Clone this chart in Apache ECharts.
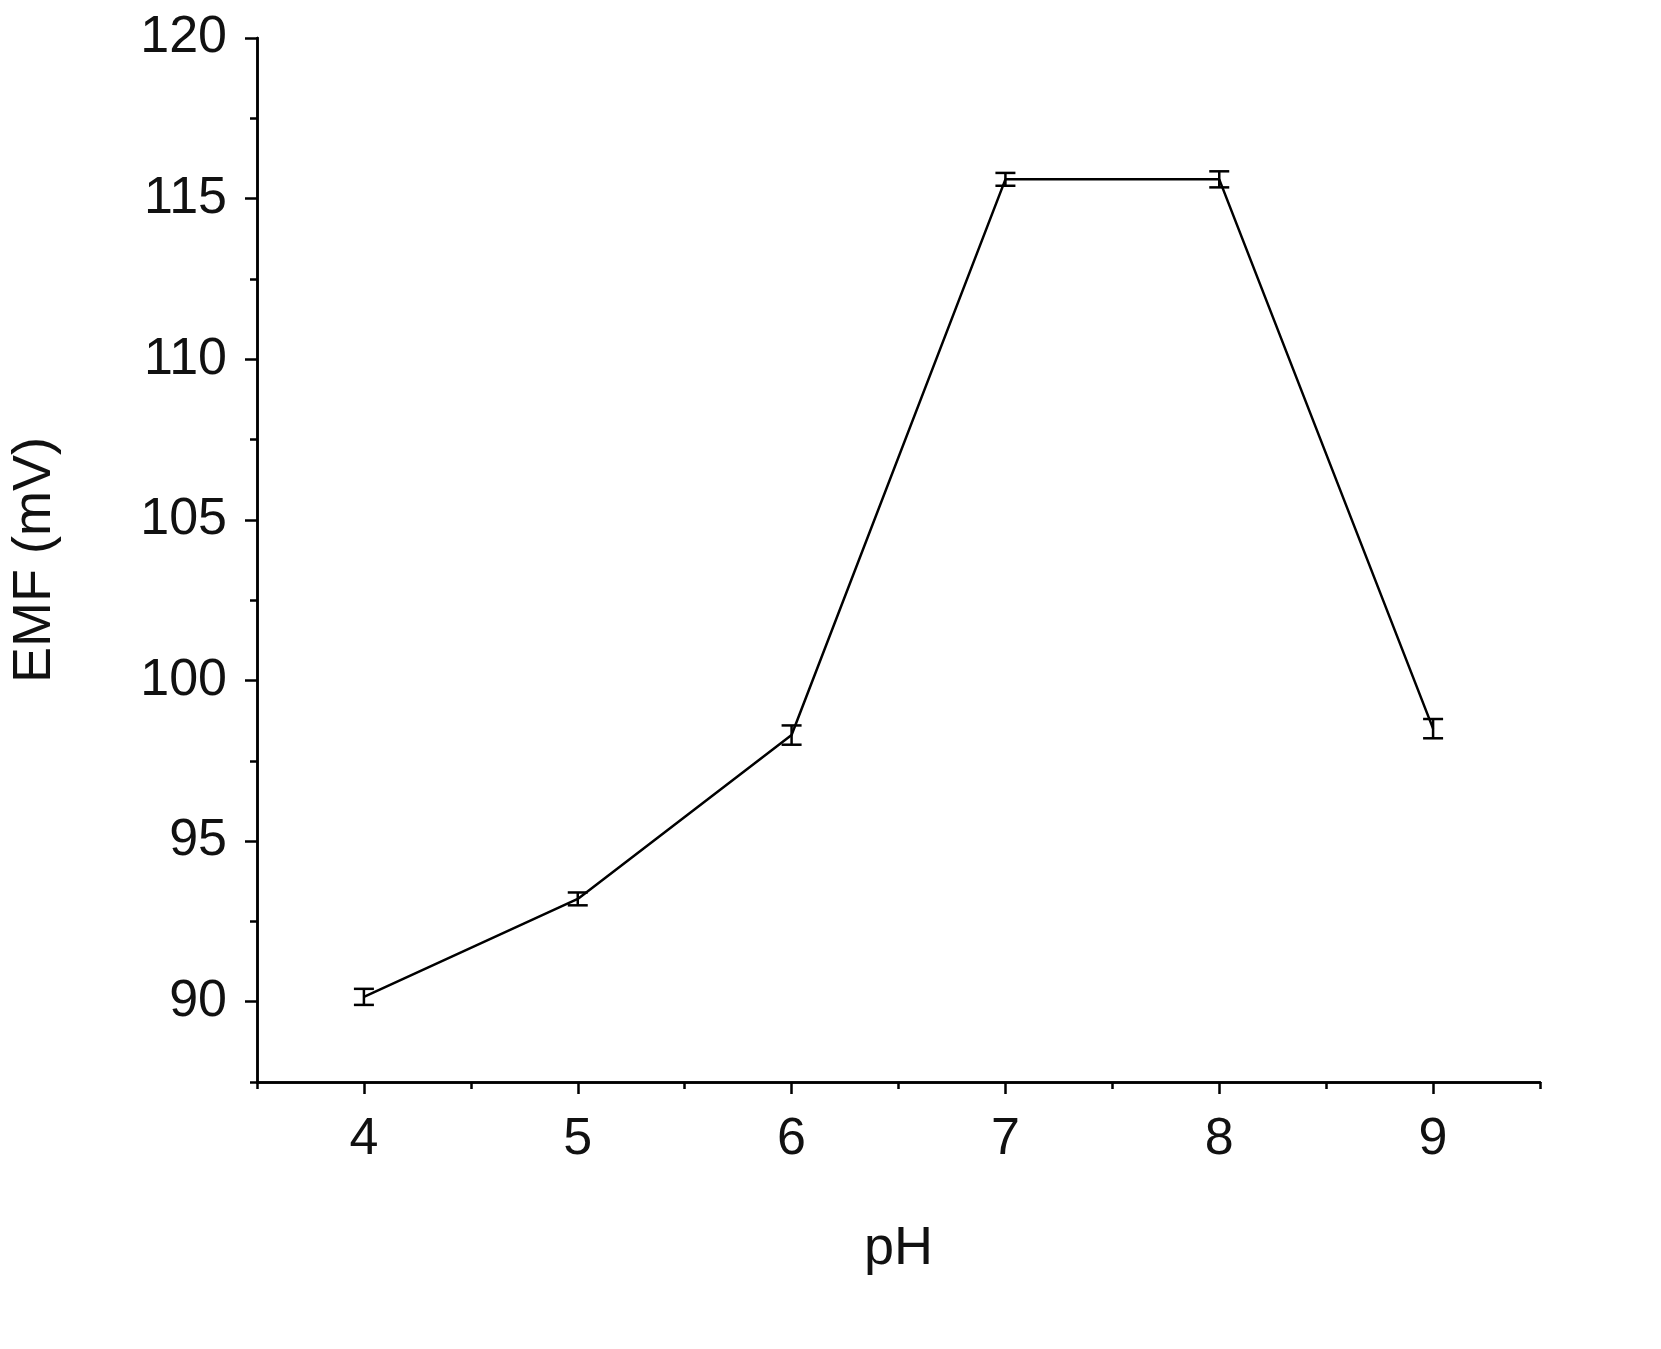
<!DOCTYPE html>
<html>
<head>
<meta charset="utf-8">
<script src="https://cdn.jsdelivr.net/npm/echarts@6/dist/echarts.min.js"></script>
<style>html,body{margin:0;background:#fff}#chart{width:1661px;height:1349px}</style>
</head>
<body>
<div id="chart"></div>
<script>
var phValues = [4, 5, 6, 7, 8, 9];
var emfValues = [90.15, 93.2, 98.3, 115.6, 115.6, 98.5];
var emfErrors = [0.25, 0.2, 0.3, 0.2, 0.25, 0.3];
var xMajorTicks = [4, 5, 6, 7, 8, 9];
var xMinorTicks = [3.5, 4.5, 5.5, 6.5, 7.5, 8.5, 9.5];
var yMajorTicks = [90, 95, 100, 105, 110, 115, 120];
var yMinorTicks = [87.5, 92.5, 97.5, 102.5, 107.5, 112.5, 117.5];

var font = 'Liberation Sans, Arial, sans-serif';
var points = phValues.map(function (x, i) { return [x, emfValues[i]]; });
var errData = phValues.map(function (x, i) {
  return [x, emfValues[i] - emfErrors[i], emfValues[i] + emfErrors[i]];
});

function axisBase(min, max) {
  return {
    type: 'value', min: min, max: max,
    splitLine: {show: false},
    axisLine: {show: true, onZero: false, lineStyle: {color: '#000', width: 2.5}}
  };
}

var xMain = Object.assign(axisBase(3.5, 9.5), {
  name: 'pH', nameLocation: 'middle', nameGap: 140,
  nameTextStyle: {fontFamily: font, fontSize: 54, color: '#111'},
  axisTick: {show: true, customValues: xMajorTicks, length: 12, lineStyle: {color: '#000', width: 2.5}},
  axisLabel: {customValues: xMajorTicks, fontFamily: font, fontSize: 52, color: '#111', margin: 32}
});
var xMinor = Object.assign(axisBase(3.5, 9.5), {
  position: 'bottom',
  axisTick: {show: true, customValues: xMinorTicks, length: 7, lineStyle: {color: '#000', width: 2.5}},
  axisLabel: {show: false}
});
var yMain = Object.assign(axisBase(87.5, 120), {
  name: 'EMF (mV)', nameLocation: 'middle', nameGap: 195, nameRotate: 90,
  nameTextStyle: {fontFamily: font, fontSize: 54, color: '#111'},
  axisTick: {show: true, customValues: yMajorTicks, length: 12, lineStyle: {color: '#000', width: 2.5}},
  axisLabel: {customValues: yMajorTicks, fontFamily: font, fontSize: 52, color: '#111', margin: 30}
});
var yMinor = Object.assign(axisBase(87.5, 120), {
  position: 'left',
  axisTick: {show: true, customValues: yMinorTicks, length: 7, lineStyle: {color: '#000', width: 2.5}},
  axisLabel: {show: false}
});

var chart = echarts.init(document.getElementById('chart'));
chart.setOption({
  backgroundColor: '#fff',
  animation: false,
  grid: {left: 247, top: 38, right: 121, bottom: 267},
  xAxis: [xMain, xMinor],
  yAxis: [yMain, yMinor],
  series: [
    {
      type: 'line', data: points, symbol: 'none',
      lineStyle: {color: '#000', width: 2.5}
    },
    {
      type: 'custom', data: errData,
      renderItem: function (params, api) {
        var x = api.value(0);
        var lo = api.coord([x, api.value(1)]);
        var hi = api.coord([x, api.value(2)]);
        var w = 10;
        var st = {stroke: '#000', lineWidth: 2.5};
        return {type: 'group', children: [
          {type: 'line', shape: {x1: lo[0], y1: lo[1], x2: hi[0], y2: hi[1]}, style: st},
          {type: 'line', shape: {x1: lo[0] - w, y1: lo[1], x2: lo[0] + w, y2: lo[1]}, style: st},
          {type: 'line', shape: {x1: hi[0] - w, y1: hi[1], x2: hi[0] + w, y2: hi[1]}, style: st}
        ]};
      }
    }
  ]
});
</script>
</body>
</html>
